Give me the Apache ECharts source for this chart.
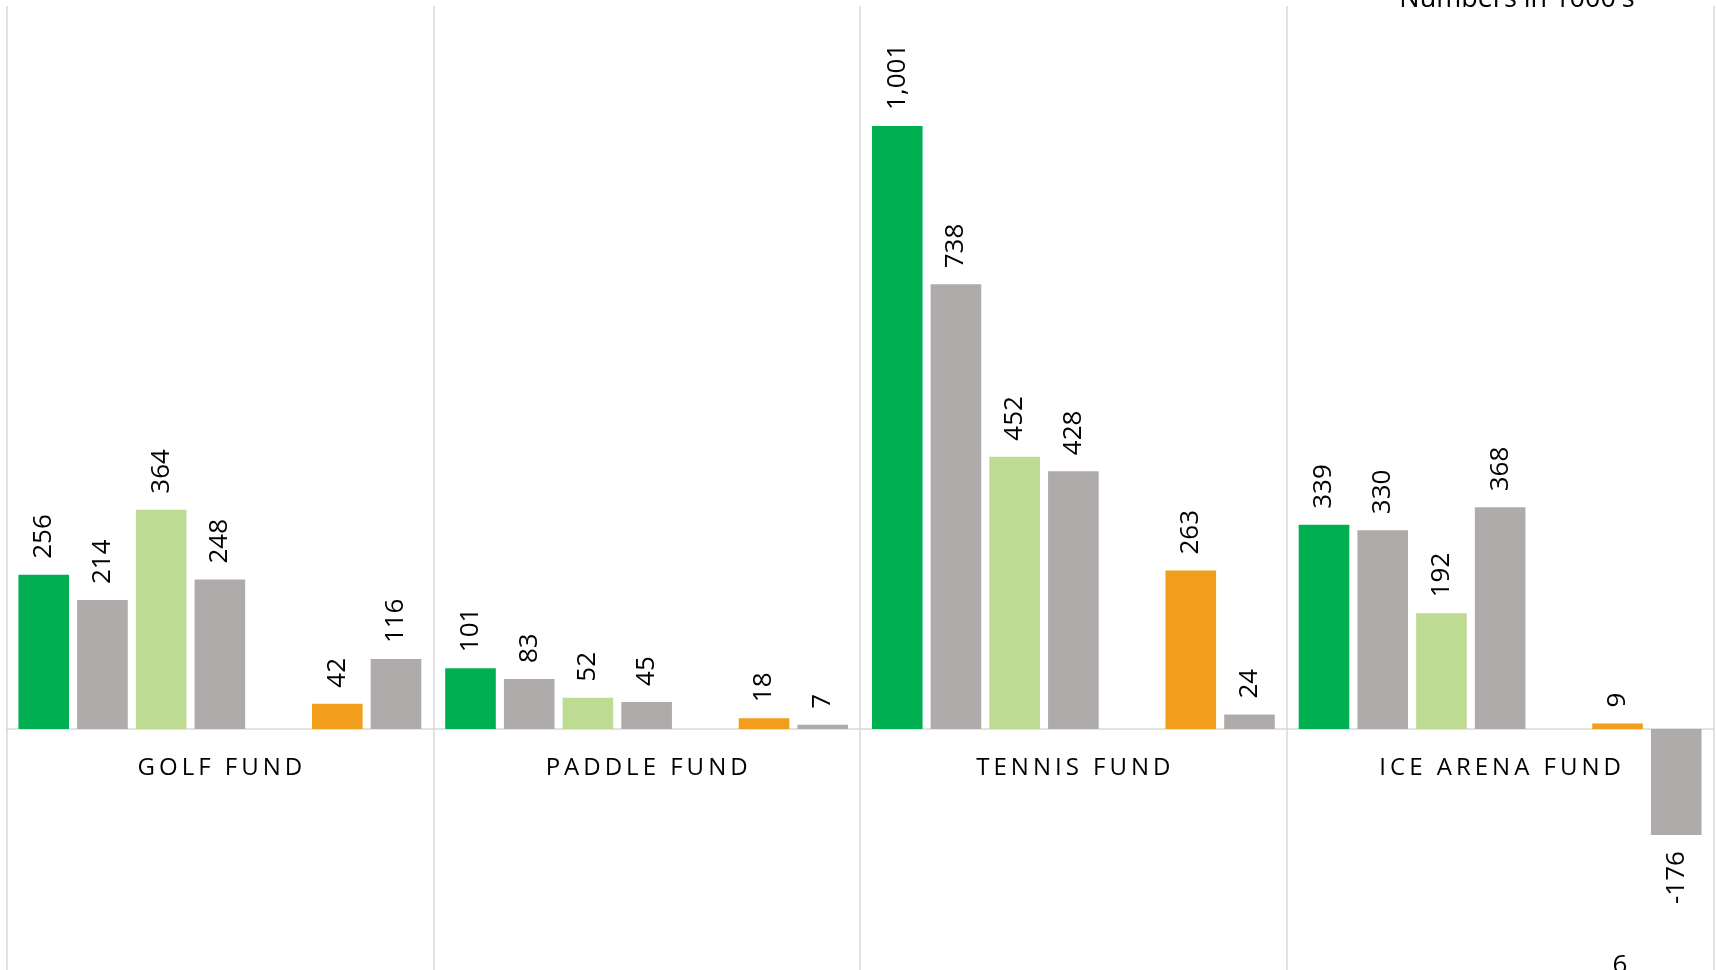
<!DOCTYPE html>
<html>
<head>
<meta charset="utf-8">
<script src="https://cdn.jsdelivr.net/npm/echarts@6/dist/echarts.min.js"></script>
<style>
  html, body { margin: 0; padding: 0; background: #fff; }
  #chart { width: 1717px; height: 970px; }
</style>
</head>
<body>
<div id="chart"></div>
<script>
// fund names on the x axis
var funds = ['GOLF FUND', 'PADDLE FUND', 'TENNIS FUND', 'ICE ARENA FUND']

// values in 1000's, one array per bar colour (left to right inside a fund)
var greenVals = [256, 101, 1001, 339]
var grayVals1 = [214, 83, 738, 330]
var lightGreenVals = [364, 52, 452, 192]
var grayVals2 = [248, 45, 428, 368]
var emptyVals = [null, null, null, null] // slot left blank in the picture
var orangeVals = [42, 18, 263, 9]
var grayVals3 = [116, 7, 24, -176]

var yMin = -400
var yMax = 1200

var FONT = '"Open Sans", "Noto Sans", sans-serif'

// grid: top 6, bottom at 970 -> zero line sits at 6 + 964 * yMax / (yMax - yMin)
var gridTop = 6
var zeroY = gridTop + 964 * yMax / (yMax - yMin)

// spread the letters a bit, like the original
function spaced (s) {
  return s.split(' ').map(function (w) {
    return w.split('').join('\u2006')
  }).join('\u2006 \u2006')
}

function barData (vals) {
  return vals.map(function (v) {
    if (v !== null && v < 0) {
      return { value: v, label: { align: 'right' } }
    }
    return v
  })
}

function makeSeries (name, vals, color) {
  return {
    name: name,
    type: 'bar',
    barGap: '16%',
    barCategoryGap: '5.6%',
    itemStyle: { color: color },
    label: {
      show: true,
      position: 'outside',
      rotate: 90,
      align: 'left',
      verticalAlign: 'middle',
      distance: 16,
      color: '#000',
      fontSize: 26,
      fontFamily: FONT,
      formatter: function (p) {
        return p.value.toLocaleString('en-US')
      }
    },
    data: barData(vals)
  }
}

var chart = echarts.init(document.getElementById('chart'))

var option = {
  animation: false,
  grid: { left: 6.5, right: 3.5, top: gridTop, bottom: 0, containLabel: false, outerBoundsMode: 'none' },
  xAxis: [
    {
      type: 'category',
      data: funds,
      axisLine: { onZero: true, lineStyle: { color: '#D9D9D9', width: 1.5 } },
      axisTick: { show: false },
      axisLabel: { show: false },
      splitLine: { show: true, interval: 0, lineStyle: { color: '#D9D9D9', width: 1.5 } }
    },
    {
      // label row, moved up so it hangs just under the zero line
      type: 'category',
      data: funds,
      position: 'bottom',
      offset: -(970 - zeroY),
      axisLine: { show: false, onZero: false },
      axisTick: { show: false },
      splitLine: { show: false },
      axisLabel: {
        margin: 27,
        color: '#000',
        fontSize: 24,
        fontFamily: FONT,
        interval: 0,
        formatter: function (v) { return spaced(v) }
      }
    }
  ],
  yAxis: {
    type: 'value',
    min: yMin,
    max: yMax,
    axisLine: { show: false },
    axisTick: { show: false },
    axisLabel: { show: false },
    splitLine: { show: false }
  },
  graphic: [
    {
      type: 'text',
      x: 1517,
      y: -14,
      style: { text: "Numbers in 1000's", fontSize: 27, fontFamily: FONT, fill: '#000', align: 'center' }
    },
    {
      type: 'text',
      x: 1620,
      y: 953,
      style: { text: '6', fontSize: 26, fontFamily: FONT, fill: '#000', align: 'center' }
    }
  ],
  series: [
    makeSeries('green', greenVals, '#00B050'),
    makeSeries('gray 1', grayVals1, '#AFABAB'),
    makeSeries('light green', lightGreenVals, '#BDDB93'),
    makeSeries('gray 2', grayVals2, '#AFABAB'),
    makeSeries('blank', emptyVals, '#FFFFFF'),
    makeSeries('orange', orangeVals, '#F09E1C'),
    makeSeries('gray 3', grayVals3, '#AFABAB')
  ]
}

chart.setOption(option)
</script>
</body>
</html>
